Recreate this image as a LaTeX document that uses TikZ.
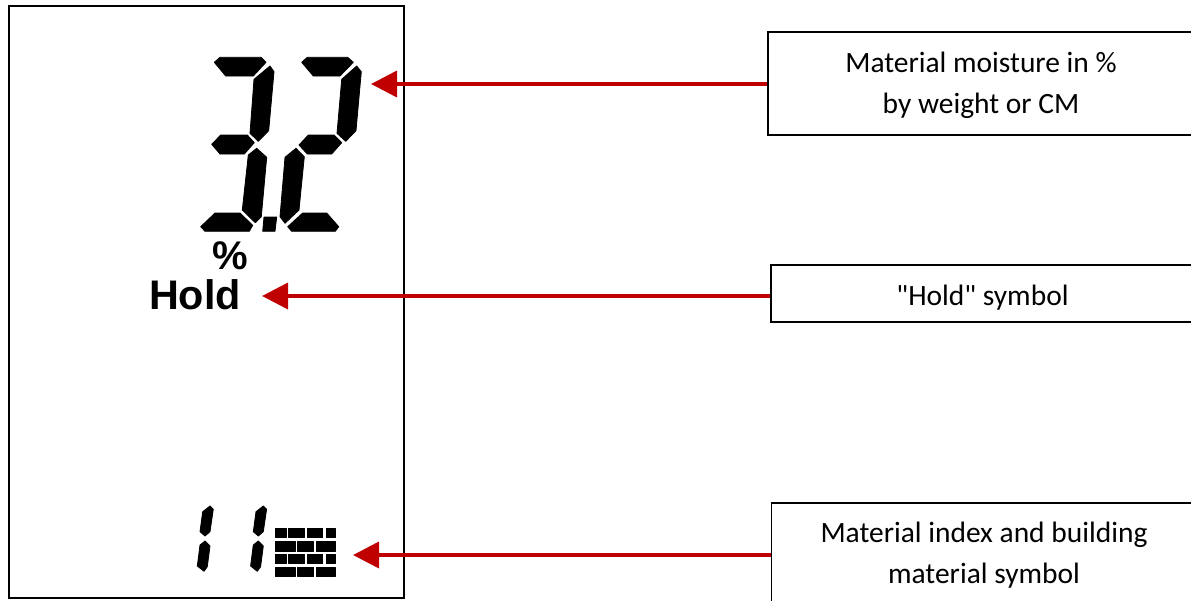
\documentclass[tikz,border=0pt]{standalone}
\usepackage{fontspec}
\setmainfont{Carlito}[Ligatures=TeXOff]
\newfontfamily\holdfont{Liberation Sans}
\usetikzlibrary{arrows.meta}
\definecolor{arrowred}{HTML}{C00000}
\begin{document}
\begin{tikzpicture}[x=0.75pt,y=-0.75pt,
				label box/.style = {draw,line width=1.1pt,font=\fontsize{22.1}{31}\selectfont,align=center,inner sep=0pt},
				lcd/.style = {fill=black,draw=black,line width=0.6pt,line join=round},
				pointer/.style = {draw=arrowred,line width=2.7pt,-{Triangle[length=19.5pt,width=19.5pt]}}]
				
				\useasboundingbox (0,0) rectangle (1191,600);
				
				\draw[line width=1.5pt] (9,6) rectangle (404,598);
				
				\path[lcd] (214.3,62.3) -- (220,57.3) -- (261,57.3) -- (266,62.3) -- (253.3,76) -- (225.7,76) -- cycle;
				\path[lcd] (254,79.3) -- (270,66) -- (274,71.7) -- (268.7,130.7) -- (258.3,141.3) -- (250,133.3) -- cycle;
				\path[lcd] (211.7,144.3) -- (220.7,135) -- (247.3,135) -- (254.3,142.7) -- (244.3,154) -- (220,154) -- cycle;
				\path[lcd] (248.3,155) -- (256.7,148.3) -- (266.7,157.3) -- (261.3,216.7) -- (255.3,222.7) -- (242.3,210) -- cycle;
				\path[lcd] (200.7,226.7) -- (215,213) -- (240,213) -- (252.7,225.3) -- (249.3,231.3) -- (205,231.3) -- cycle;
				\path[lcd] (264,217) -- (276.7,217) -- (275,231.3) -- (262.7,231.3) -- cycle;
				
				\path[lcd] (301.7,62.3) -- (307.3,57.3) -- (347.7,57.3) -- (353.3,62.3) -- (340,76) -- (313.3,76) -- cycle;
				\path[lcd] (341.7,79.3) -- (356.7,66) -- (361.3,71.7) -- (356,130.7) -- (345.7,141.3) -- (337,133.3) -- cycle;
				\path[lcd] (299,145) -- (308.3,135) -- (334,135) -- (341.7,142.7) -- (331.7,154) -- (307.3,154) -- cycle;
				\path[lcd] (285,157.3) -- (296,148.3) -- (304.3,156.7) -- (299,210) -- (285,223.3) -- (280,216.7) -- cycle;
				\path[lcd] (287.7,226.7) -- (302.7,213) -- (326.7,213) -- (338.7,226.7) -- (335.3,231.3) -- (291.7,231.3) -- cycle;
				
				\foreach \dx in {0,53.3} {
					\path[lcd,xshift=\dx*0.75pt] (202.7,511.7) -- (210,506) -- (213.3,509.3) -- (210,531.7) -- (205,536) -- (200,531.7) -- cycle;
					\path[lcd,xshift=\dx*0.75pt] (200,545) -- (205,541) -- (210,546) -- (207.3,566.7) -- (204,571.3) -- (197.3,566) -- cycle;
				}
				
				\foreach \top/\bot in {528.3/537.7,554.3/563.7} {
					\foreach \xa/\xb in {275.3/286,288.7/304,307/322.7,326/335}
						\path[lcd] (\xa,\top) rectangle (\xb,\bot);
				}
				\foreach \top/\bot in {541.7/551,567.7/576.7} {
					\foreach \xa/\xb in {275.3/295,297.7/313.3,316/335}
						\path[lcd] (\xa,\top) rectangle (\xb,\bot);
				}
				
				\node[font=\holdfont\bfseries\fontsize{30}{30}\selectfont] (percent) at (230,256) {\%};
				\node[font=\holdfont\bfseries\fontsize{31}{31}\selectfont] (hold) at (195,295) {Hold};
				
				\node[label box,minimum width=426*0.75pt,minimum height=103*0.75pt] (moisturebox) at (981,83.5) {\rule{0pt}{18pt}Material moisture in \%\\by weight or CM};
				\node[label box,minimum width=423*0.75pt,minimum height=57*0.75pt] (holdbox) at (982.5,293.5) {\rule{0pt}{21.5pt}"Hold" symbol};
				\node[label box,minimum width=425*0.75pt,minimum height=104*0.75pt] (materialbox) at (984,555) {Material index and building\\material symbol};
				
				\coordinate (moisturetip) at (371,84);
				\coordinate (holdtip) at (262,296);
				\coordinate (materialtip) at (353,555);
				
				\draw[pointer] (moisturebox.west |- moisturetip) -- (moisturetip);
				\draw[pointer] (holdbox.west |- holdtip) -- (holdtip);
				\draw[pointer] (materialbox.west |- materialtip) -- (materialtip);
				
				\end{tikzpicture}
\end{document}
